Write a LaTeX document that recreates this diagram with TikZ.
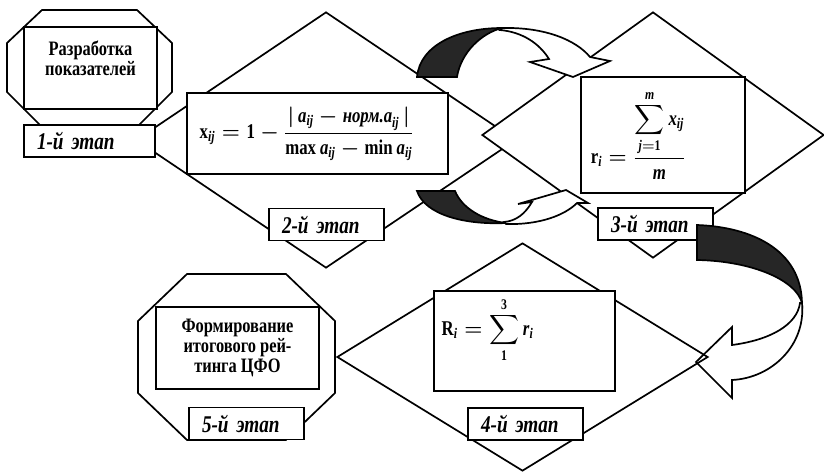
\documentclass[tikz,border=0pt]{standalone}
\usepackage{amsmath}
\usepackage{fontspec}
\setmainfont{Liberation Serif}[FakeStretch=0.8]
\usepackage{tikz}
\usetikzlibrary{shapes.geometric, positioning}

\begin{document}
\begin{tikzpicture}[
    x=1pt, y=-1pt,
    line width=1.7pt,
    romb/.style={draw, diamond, inner sep=0pt},
    octa/.style={draw, fill=white},
    frame/.style={draw, fill=white, inner sep=0pt},
    stage/.style={draw, fill=white, minimum height=32pt, inner xsep=13pt,
                  inner ysep=0pt, align=left,
                  font=\fontsize{24}{26}\selectfont\bfseries\itshape},
    txt/.style={align=center, font=\fontsize{20.5}{20}\selectfont\bfseries},
    frm/.style={font=\fontsize{21}{24}\selectfont\bfseries\boldmath},
    back/.style={fill=black!85, draw=black},
    face/.style={fill=white, draw=black}
  ]
  \useasboundingbox (0,0) rectangle (824,471);

  % Stage 1
  \draw[octa] (42,10) -- (137,10) -- (172,43) -- (172,92) -- (139,125)
    -- (40,125) -- (7,92) -- (7,43) -- cycle;
  \node[frame, minimum width=133pt, minimum height=82pt] (r1) at (90.5,68) {};
  \node[txt] (t1) at ([yshift=10pt]r1.center) {Разработка\\показателей};

  % Stages 2 and 3
  \node[romb, fill=white, minimum width=380pt, minimum height=256pt] (d2) at (326,140) {};
  \node[romb, fill=white, minimum width=342pt, minimum height=246pt] (d3) at (653,135) {};
  \node[frame, minimum width=261pt, minimum height=81pt] (f2) at (317.5,133.5) {};
  \node[frm] (e2) at ([xshift=-11pt]f2.center)
    {$\text{x}_{\textit{ij}}=\text{1}-\dfrac{|\,\textit{a}_{\textit{ij}}-\textit{норм.a}_{\textit{ij}}\,|}{\text{max}\,\textit{a}_{\textit{ij}}-\text{min}\,\textit{a}_{\textit{ij}}}$};
  \node[frame, minimum width=164pt, minimum height=116pt] (f3) at (663,135) {};
  \node[frm] (e3) at ([xshift=-25pt]f3.center)
    {$\text{r}_{\textit{i}}=\dfrac{\displaystyle\sum_{\textit{j}=\text{1}}^{\textit{m}}\textit{x}_{\textit{ij}}}{\textit{m}}$};

  \node[stage, text width=105pt] (s1) at (89.5,141) {1-й этап};
  \node[stage, text width=89pt] (s2) at (326.5,224.5) {2-й этап};
  \node[stage, text width=89pt] (s3) at (655.5,224) {3-й этап};

  % curved arrows between stage 2 and stage 3
  \draw[back] (417,77) .. controls (420,45) and (458,28) .. (502,28)
    .. controls (482,33) and (461,52) .. (457,77) -- cycle;
  \draw[face] (502,28) .. controls (545,27) and (576,40) .. (590,57)
    -- (610,61) -- (573,77) -- (530,62) -- (549,59)
    .. controls (539,43) and (522,32) .. (500,30) -- cycle;
  \draw[back] (417,191) -- (455,191) .. controls (462,208) and (482,220) .. (506,223)
    .. controls (465,225) and (425,215) .. (417,191) -- cycle;
  \draw[face] (506,224) .. controls (540,225) and (565,215) .. (577,203)
    -- (588,203) -- (566,190) -- (518,204) -- (532,202)
    .. controls (525,214) and (516,221) .. (504,222) -- cycle;

  % Stage 5
  \draw[octa] (187,274) -- (286,274) -- (335,321) -- (335,393) -- (286,440)
    -- (187,440) -- (138,393) -- (138,321) -- cycle;
  \node[frame, txt, minimum width=163pt, minimum height=82pt] (r5) at (237.5,348)
    {Формирование\\итогового рей-\\тинга ЦФО};
  \node[stage, text width=89pt] (s5) at (246.5,423.5) {5-й этап};

  % curved arrow from stage 3 to stage 4
  \draw[back] (697,225) .. controls (752,227) and (801,250) .. (802,303)
    .. controls (796,280) and (752,261) .. (697,260) -- cycle;
  \draw[face] (802,303) .. controls (806,345) and (772,378) .. (732,380)
    -- (732,398) -- (696,362) -- (732,327) -- (732,345)
    .. controls (770,340) and (797,325) .. (800,303) -- cycle;

  % Stage 4
  \node[romb, minimum width=371pt, minimum height=228pt] (d4) at (522.5,357) {};
  \node[frame, minimum width=181pt, minimum height=100pt] (f4) at (524.5,341) {};
  \node[frm] (e4) at ([xshift=-37pt, yshift=11pt]f4.center)
    {$\text{R}_{\textit{i}}=\displaystyle\sum_{\text{1}}^{\text{3}}\textit{r}_{\textit{i}}$};
  \node[stage, text width=89pt] (s4) at (525.5,424) {4-й этап};
\end{tikzpicture}
\end{document}
